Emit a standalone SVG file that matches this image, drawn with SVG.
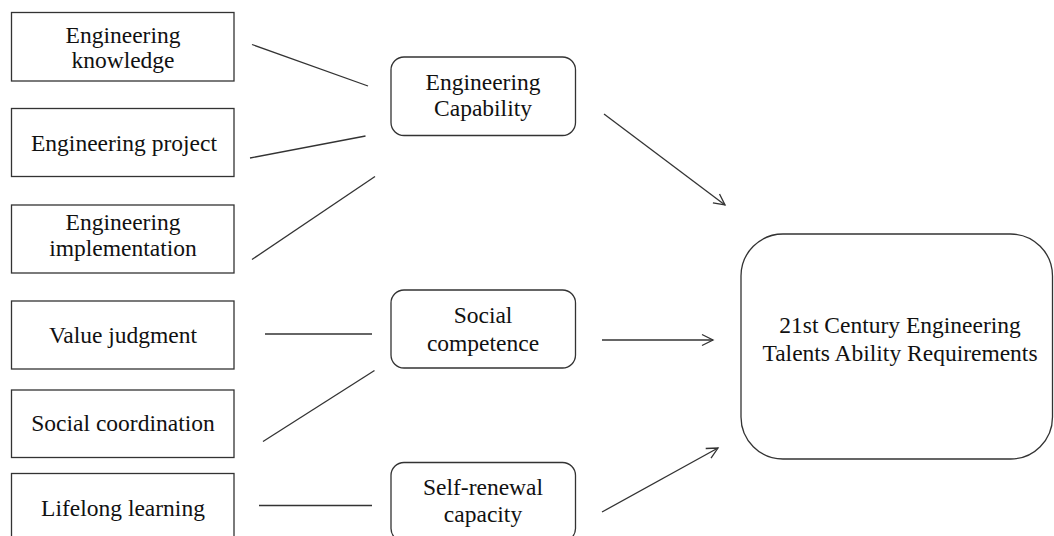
<svg xmlns="http://www.w3.org/2000/svg" width="1054" height="536" viewBox="0 0 1054 536">
<defs>
<style>
.box{fill:#fff;stroke:#333;stroke-width:1.3}
.t{font-family:"Liberation Serif","Times New Roman",serif;font-size:23.5px;fill:#111;text-anchor:middle}
.c{stroke:#333;stroke-width:1.3;fill:none}
</style>
<marker id="arr" markerUnits="userSpaceOnUse" markerWidth="14" markerHeight="14" viewBox="0 0 14 14" refX="12" refY="7" orient="auto">
<path d="M1,1.5 L12,7 L1,12.5" fill="none" stroke="#333" stroke-width="1.3"/>
</marker>
</defs>
<rect width="1054" height="536" fill="#fff"/>
<g id="n-knowledge"><rect class="box" x="11.5" y="12.5" width="222.5" height="68.5"/><text class="t" x="123" y="43">Engineering</text><text class="t" x="123" y="68">knowledge</text></g>
<g id="n-project"><rect class="box" x="11.5" y="108.5" width="222.5" height="68"/><text class="t" x="124" y="151">Engineering project</text></g>
<g id="n-implementation"><rect class="box" x="11.5" y="205" width="222.5" height="68"/><text class="t" x="123" y="230">Engineering</text><text class="t" x="123" y="256">implementation</text></g>
<g id="n-value"><rect class="box" x="11.5" y="301" width="222.5" height="68"/><text class="t" x="123" y="343">Value judgment</text></g>
<g id="n-coordination"><rect class="box" x="11.5" y="390" width="222.5" height="67.5"/><text class="t" x="123" y="431">Social coordination</text></g>
<g id="n-lifelong"><rect class="box" x="11.5" y="473.5" width="222.5" height="68"/><text class="t" x="123" y="516">Lifelong learning</text></g>
<g id="n-engcap"><rect class="box" x="391" y="57" width="184.5" height="78.5" rx="13"/><text class="t" x="483" y="90">Engineering</text><text class="t" x="483" y="116">Capability</text></g>
<g id="n-social"><rect class="box" x="391" y="290" width="184.5" height="78" rx="13"/><text class="t" x="483" y="323">Social</text><text class="t" x="483" y="351">competence</text></g>
<g id="n-self"><rect class="box" x="391" y="462.5" width="184.5" height="79" rx="13"/><text class="t" x="483" y="495">Self-renewal</text><text class="t" x="483" y="522">capacity</text></g>
<g id="n-target"><rect class="box" x="741" y="234" width="311.5" height="225" rx="42"/><text class="t" x="900" y="333">21st Century Engineering</text><text class="t" x="900" y="361">Talents Ability Requirements</text></g>
<g id="connectors">
<line class="c" x1="252" y1="44.5" x2="368" y2="86"/>
<line class="c" x1="250" y1="158" x2="365.5" y2="136"/>
<line class="c" x1="252" y1="259.5" x2="375" y2="176.5"/>
<line class="c" x1="265" y1="334" x2="372" y2="334"/>
<line class="c" x1="263" y1="441.5" x2="374.5" y2="370.5"/>
<line class="c" x1="259" y1="505.5" x2="372" y2="505.5"/>
<line class="c" x1="604" y1="114" x2="725" y2="205" marker-end="url(#arr)"/>
<line class="c" x1="602" y1="340" x2="713" y2="340" marker-end="url(#arr)"/>
<line class="c" x1="602" y1="512" x2="718" y2="448" marker-end="url(#arr)"/>
</g>
</svg>
